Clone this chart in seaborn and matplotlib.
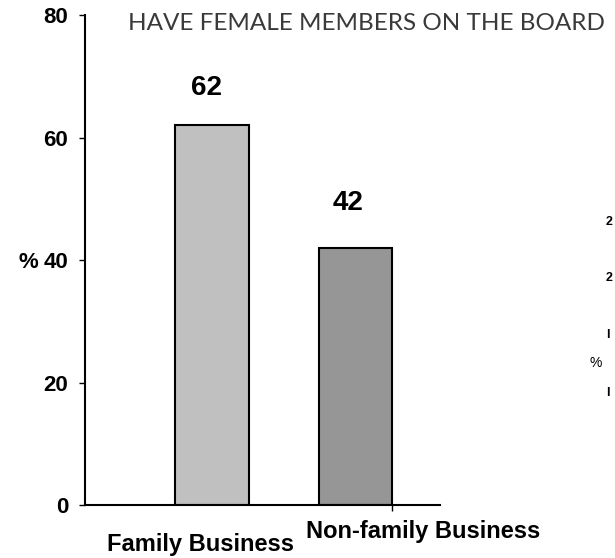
import matplotlib
matplotlib.use("Agg")
import matplotlib.pyplot as plt
import matplotlib.transforms as mtransforms
import seaborn as sns
import pandas as pd

# data
categories = ["Family Business", "Non-family Business"]
values = [62, 42]
value_labels = ["62", "42"]
bar_colors = ["#c0c0c0", "#969696"]
yticks = [0, 20, 40, 60, 80]
title = "HAVE FEMALE MEMBERS ON THE BOARD"

df = pd.DataFrame({"cat": categories, "val": values})

sns.set_style("white")
plt.rcParams["font.family"] = ["Liberation Sans", "DejaVu Sans"]
plt.rcParams["text.color"] = "black"
plt.rcParams["ytick.color"] = "black"
plt.rcParams["xtick.color"] = "black"

fig = plt.figure(figsize=(6.15, 5.58), dpi=100)
ax = fig.add_axes([0.1382, 0.095, 0.5772, 0.878])

sns.barplot(data=df, x="cat", y="val", hue="cat", palette=bar_colors,
            width=0.515, edgecolor="black", linewidth=1.5, legend=False, ax=ax)

ax.set_xlim(-0.885, 1.589)
ax.set_ylim(0, 80)
ax.set_yticks(yticks)
ax.set_yticklabels([str(t) for t in yticks], fontsize=16, fontweight="bold",
                   color="black")
ax.tick_params(axis="y", direction="out", length=4, width=1, pad=8,
               left=True, colors="black")
# small stray tick under the second bar's right edge
ax.set_xticks([1.258])
ax.set_xticklabels([""])
ax.tick_params(axis="x", direction="out", length=4, width=1, bottom=True)
ax.set_xlabel("")
ax.set_ylabel("")

for s in ["top", "right"]:
    ax.spines[s].set_visible(False)
for s in ["left", "bottom"]:
    ax.spines[s].set_linewidth(1.5)
    ax.spines[s].set_color("black")

# "%" axis label
fig.text(28 / 615, 1 - 263 / 558, "%", fontsize=16, fontweight="bold",
         ha="center", va="center")

# value labels above bars
label_pos = [(-0.04, 68.1), (0.948, 49.3)]
for (x, y), lab in zip(label_pos, value_labels):
    ax.text(x, y, lab, ha="center", va="center", fontsize=20, fontweight="bold")

# category labels below axis (offset as in the original)
trans = mtransforms.blended_transform_factory(ax.transData, ax.transAxes)
ax.text(-0.077, -0.08, categories[0], transform=trans, ha="center", va="center",
        fontsize=17, fontweight="bold")
ax.text(1.47, -0.055, categories[1], transform=trans, ha="center", va="center",
        fontsize=17, fontweight="bold")

# title
fig.text(128 / 615, 0.958, title, fontsize=17.5, color="#3a3a3a",
         family=["Lato", "DejaVu Sans"], ha="left", va="center")

# stray fragments on the right edge
fig.text(596 / 615, 1 - 363 / 558, "%", fontsize=10, ha="center", va="center")
for yy, ch in [(222, "2"), (278, "2"), (335, "I"), (393, "I")]:
    fig.text(606 / 615, 1 - yy / 558, ch, fontsize=9, fontweight="bold",
             ha="left", va="center")

fig.savefig("out.png", dpi=100)
